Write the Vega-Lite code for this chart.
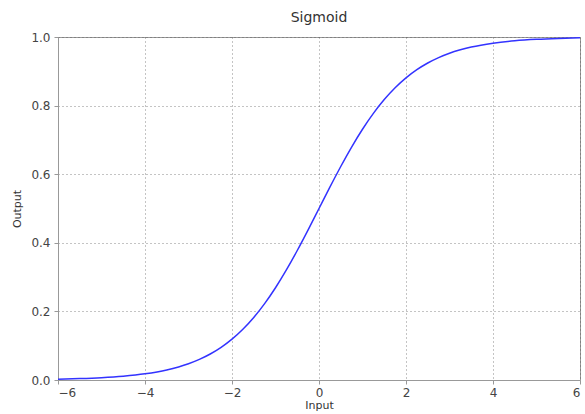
{
  "$schema": "https://vega.github.io/schema/vega-lite/v6.json",
  "autosize": "none",
  "width": 522,
  "height": 343,
  "padding": {"left": 58, "top": 37, "right": 5, "bottom": 34},
  "background": "white",
  "title": {"text": "Sigmoid", "font": "DejaVu Sans", "fontSize": 14, "fontWeight": "normal", "color": "#333", "offset": 6},
  "config": {
    "view": {"stroke": "#999", "strokeWidth": 1},
    "axis": {
      "labelFont": "DejaVu Sans", "labelFontSize": 12, "labelColor": "#444",
      "titleFont": "DejaVu Sans", "titleFontSize": 11, "titleFontWeight": "normal", "titleColor": "#333",
      "domainColor": "#999", "tickColor": "#999", "tickSize": 4,
      "grid": true, "gridColor": "#555", "gridDash": [1, 3], "gridOpacity": 0.7
    }
  },
  "data": {"values": [
    {"x": -6, "y": 0.002473}, {"x": -5.5, "y": 0.004070}, {"x": -5, "y": 0.006693}, {"x": -4.5, "y": 0.010987},
    {"x": -4, "y": 0.017986}, {"x": -3.5, "y": 0.029312}, {"x": -3, "y": 0.047426}, {"x": -2.75, "y": 0.060087},
    {"x": -2.5, "y": 0.075858}, {"x": -2.25, "y": 0.095349}, {"x": -2, "y": 0.119203}, {"x": -1.75, "y": 0.148047},
    {"x": -1.5, "y": 0.182426}, {"x": -1.25, "y": 0.222700}, {"x": -1, "y": 0.268941}, {"x": -0.75, "y": 0.320821},
    {"x": -0.5, "y": 0.377541}, {"x": -0.25, "y": 0.437823}, {"x": 0, "y": 0.5}, {"x": 0.25, "y": 0.562177},
    {"x": 0.5, "y": 0.622459}, {"x": 0.75, "y": 0.679179}, {"x": 1, "y": 0.731059}, {"x": 1.25, "y": 0.777300},
    {"x": 1.5, "y": 0.817574}, {"x": 1.75, "y": 0.851953}, {"x": 2, "y": 0.880797}, {"x": 2.25, "y": 0.904651},
    {"x": 2.5, "y": 0.924142}, {"x": 2.75, "y": 0.939913}, {"x": 3, "y": 0.952574}, {"x": 3.5, "y": 0.970688},
    {"x": 4, "y": 0.982014}, {"x": 4.5, "y": 0.989013}, {"x": 5, "y": 0.993307}, {"x": 5.5, "y": 0.995930},
    {"x": 6, "y": 0.997527}
  ]},
  "mark": {"type": "line", "color": "#3333ff", "strokeWidth": 1.5, "interpolate": "monotone", "clip": true},
  "encoding": {
    "x": {"field": "x", "type": "quantitative", "scale": {"domain": [-6, 6], "nice": false},
      "axis": {"values": [-6, -4, -2, 0, 2, 4, 6], "format": "d", "title": "Input", "labelPadding": 3, "titlePadding": 1}},
    "y": {"field": "y", "type": "quantitative", "scale": {"domain": [0, 1], "nice": false},
      "axis": {"values": [0, 0.2, 0.4, 0.6, 0.8, 1.0], "format": ".1f", "title": "Output", "labelPadding": 4, "titlePadding": 8}}
  }
}
